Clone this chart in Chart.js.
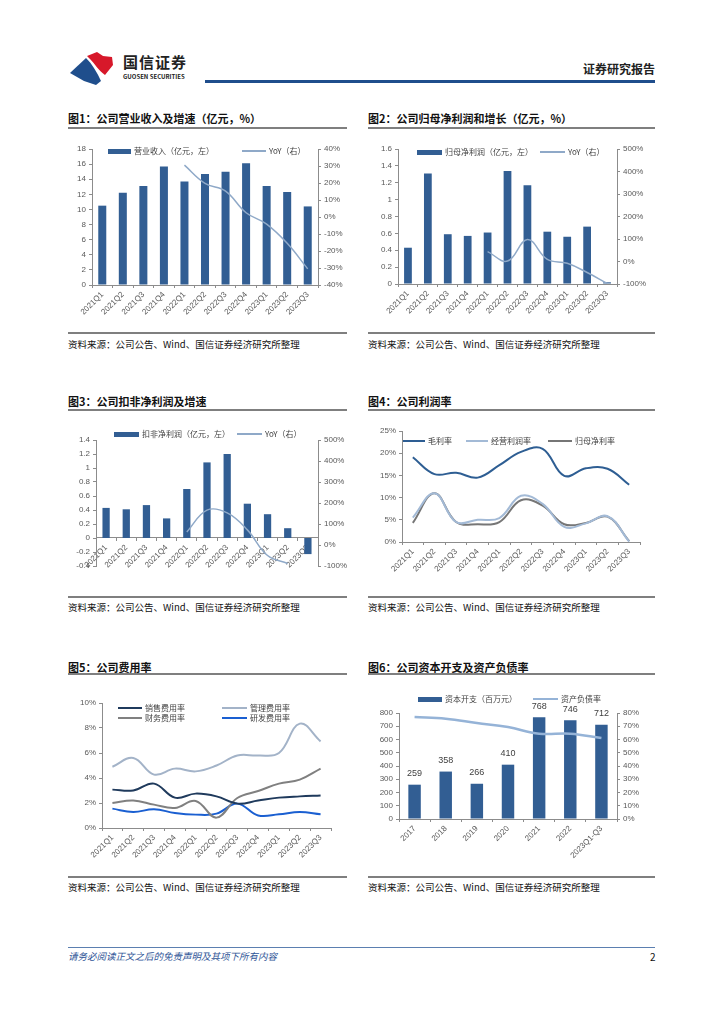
<!DOCTYPE html>
<html>
<head>
<meta charset="utf-8">
<script src="https://cdn.jsdelivr.net/npm/chart.js@4.4.1/dist/chart.umd.min.js"></script>
<style>
  html, body { margin: 0; padding: 0; background: #fff; }
  #page { position: relative; width: 724px; height: 1024px; overflow: hidden;
          font-family: "Noto Sans CJK SC", "Liberation Sans", sans-serif; }
  .abs { position: absolute; white-space: nowrap; }
  canvas { position: absolute; }
  .title { font-size: 11px; line-height: 12px; font-weight: bold; color: #111; }
  .src { font-size: 9.5px; line-height: 10px; color: #111; }
  .rule { position: absolute; height: 1.5px; background: #7f7f7f; }
  .lg { position: absolute; font-size: 8px; line-height: 10px; color: #404040; white-space: nowrap; }
  .sw { position: absolute; }
</style>
</head>
<body>
<div id="page">
  <!-- header -->
  <svg class="abs" style="left:68px;top:50px" width="50" height="36" viewBox="0 0 50 36">
    <path d="M19 6 L29 2 L35 6 L44 7 L45 15 L37 25 C31 21 27 14 22 9 Z" fill="#d7182a"/>
    <path d="M2 23 L18 8 C24 14 29 22 33 31 L28 35 L16 31 Z" fill="#1f4e8c"/>
  </svg>
  <div class="abs" style="left:123px;top:54px;font-size:15px;line-height:16px;font-weight:bold;color:#222;letter-spacing:1px">国信证券</div>
  <div class="abs" style="left:123px;top:73px;font-size:6px;line-height:7px;font-weight:bold;color:#222">GUOSEN SECURITIES</div>
  <div class="abs" style="left:583px;top:62px;font-size:12px;line-height:13px;font-weight:bold;color:#222">证券研究报告</div>
  <div class="abs" style="left:205px;top:80px;width:450px;height:2.5px;background:#1f4e8c"></div>

  <!-- titles & sources -->
  <div class="abs title" style="left:68px;top:112px">图1：公司营业收入及增速（亿元，%）</div>
  <div class="abs title" style="left:368px;top:112px">图2：公司归母净利润和增长（亿元，%）</div>
  <div class="rule" style="left:68px;top:127px;width:279px"></div>
  <div class="rule" style="left:368px;top:127px;width:287px"></div>
  <div class="rule" style="left:68px;top:332px;width:279px"></div>
  <div class="rule" style="left:368px;top:332px;width:287px"></div>
  <div class="abs src" style="left:68px;top:339px">资料来源：公司公告、Wind、国信证券经济研究所整理</div>
  <div class="abs src" style="left:368px;top:339px">资料来源：公司公告、Wind、国信证券经济研究所整理</div>

  <div class="abs title" style="left:68px;top:395px">图3：公司扣非净利润及增速</div>
  <div class="abs title" style="left:368px;top:395px">图4：公司利润率</div>
  <div class="rule" style="left:68px;top:409px;width:279px"></div>
  <div class="rule" style="left:368px;top:409px;width:287px"></div>
  <div class="rule" style="left:68px;top:596px;width:279px"></div>
  <div class="rule" style="left:368px;top:596px;width:287px"></div>
  <div class="abs src" style="left:68px;top:602px">资料来源：公司公告、Wind、国信证券经济研究所整理</div>
  <div class="abs src" style="left:368px;top:602px">资料来源：公司公告、Wind、国信证券经济研究所整理</div>

  <div class="abs title" style="left:68px;top:661px">图5：公司费用率</div>
  <div class="abs title" style="left:368px;top:661px">图6：公司资本开支及资产负债率</div>
  <div class="rule" style="left:68px;top:673px;width:279px"></div>
  <div class="rule" style="left:368px;top:673px;width:287px"></div>
  <div class="rule" style="left:68px;top:876px;width:279px"></div>
  <div class="rule" style="left:368px;top:876px;width:287px"></div>
  <div class="abs src" style="left:68px;top:882px">资料来源：公司公告、Wind、国信证券经济研究所整理</div>
  <div class="abs src" style="left:368px;top:882px">资料来源：公司公告、Wind、国信证券经济研究所整理</div>

  <!-- footer -->
  <div class="abs" style="left:68px;top:947px;width:587px;height:1px;background:#5b7fb0"></div>
  <div class="abs" style="left:68px;top:951px;font-size:9.5px;line-height:11px;font-style:italic;color:#2f5597">请务必阅读正文之后的免责声明及其项下所有内容</div>
  <div class="abs" style="left:650px;top:951px;font-size:10px;line-height:11px;color:#111">2</div>

  <canvas id="c1" width="280" height="190" style="left:68px;top:135px"></canvas>
  <canvas id="c2" width="287" height="190" style="left:368px;top:135px"></canvas>
  <canvas id="c3" width="280" height="170" style="left:68px;top:420px"></canvas>
  <canvas id="c4" width="287" height="170" style="left:368px;top:420px"></canvas>
  <canvas id="c5" width="280" height="180" style="left:68px;top:690px"></canvas>
  <canvas id="c6" width="287" height="180" style="left:368px;top:690px"></canvas>
</div>

<script>
// ---- data ----
const quarters = ['2021Q1', '2021Q2', '2021Q3', '2021Q4', '2022Q1', '2022Q2', '2022Q3', '2022Q4', '2023Q1', '2023Q2', '2023Q3'];

const revenue    = [10.5, 12.2, 13.1, 15.7, 13.7, 14.7, 15.0, 16.1, 13.1, 12.3, 10.4];
const revenueYoy = [null, null, null, null, 30.5, 19.8, 15.2, 2.5, -4.2, -15.5, -30.5];

const netProfit    = [0.43, 1.31, 0.59, 0.57, 0.61, 1.34, 1.17, 0.62, 0.56, 0.68, 0.02];
const netProfitYoy = [null, null, null, null, 44, 2, 98, 9, -8, -49, -97];

const deductedProfit = [0.43, 0.41, 0.47, 0.28, 0.70, 1.08, 1.20, 0.49, 0.34, 0.14, -0.23];
const deductedYoy    = [null, null, null, null, 62, 166, 153, 72, -50, -88, null];

const grossMargin     = [19.1, 15.3, 15.6, 14.5, 17.3, 20.3, 21.0, 14.9, 16.6, 16.5, 12.9];
const operatingMargin = [5.5, 11.0, 4.5, 5.0, 5.4, 10.4, 8.6, 3.4, 4.2, 5.8, 0.1];
const netMargin       = [4.3, 11.0, 4.5, 4.0, 4.5, 9.4, 8.2, 4.0, 4.3, 5.7, 0.2];

const sellingRate = [3.07, 3.0, 3.55, 2.43, 2.75, 2.53, 1.95, 2.2, 2.43, 2.53, 2.6];
const adminRate   = [4.9, 5.6, 4.27, 4.75, 4.53, 5.0, 5.8, 5.8, 6.0, 8.35, 6.93];
const financeRate = [2.0, 2.2, 1.87, 1.6, 2.16, 0.83, 2.4, 2.96, 3.55, 3.87, 4.75];
const rdRate      = [1.55, 1.28, 1.5, 1.2, 1.07, 1.15, 1.95, 1.0, 1.1, 1.28, 1.1];

const years      = ['2017', '2018', '2019', '2020', '2021', '2022', '2023Q1-Q3'];
const capex      = [259, 358, 266, 410, 768, 746, 712];
const debtRatio  = [77, 75.7, 72.5, 69.4, 64.4, 64.4, 61.1];

// ---- styling ----
const FONT = '"Liberation Sans", "Noto Sans CJK SC", sans-serif';
const BAR  = '#325e93';
const YOY  = '#8fa9c8';
const AXIS = '#8c8c8c';
const TICK = '#595959';

Chart.defaults.font.family = FONT;
Chart.defaults.font.size = 8;
Chart.defaults.color = TICK;
Chart.defaults.animation = false;
Chart.defaults.responsive = false;
Chart.defaults.plugins.legend.display = false;
Chart.defaults.plugins.tooltip.enabled = false;
Chart.defaults.elements.point.radius = 0;

const pct = v => v + '%';
const dec = v => String(+v.toFixed(1));

function yAxis(position, min, max, step, width, fmt) {
  return {
    position, min, max,
    ticks: { stepSize: step, color: TICK, padding: 3, callback: fmt || dec },
    grid: { drawOnChartArea: false, color: AXIS, tickLength: 3 },
    border: { color: AXIS },
    afterFit: s => { s.width = width; },
  };
}

function xAxis(height, extra) {
  return Object.assign({
    offset: true,
    ticks: { color: TICK, minRotation: 45, maxRotation: 45, autoSkip: false, padding: 2 },
    grid: { drawOnChartArea: false, offset: true, color: AXIS, tickLength: 3 },
    border: { color: AXIS },
    afterFit: s => { s.height = height; },
  }, extra || {});
}

function addLegend(items) {
  const page = document.getElementById('page');
  items.forEach(it => {
    const sw = document.createElement('div');
    sw.className = 'sw';
    sw.style.cssText = `left:${it.x}px;top:${it.y - it.h / 2}px;width:${it.w}px;height:${it.h}px;background:${it.color}`;
    page.appendChild(sw);
    const tx = document.createElement('div');
    tx.className = 'lg';
    tx.textContent = it.text;
    tx.style.left = (it.x + it.w + 3) + 'px';
    tx.style.top = (it.y - 5) + 'px';
    page.appendChild(tx);
  });
}

// value labels above bars (fig. 6)
const barValueLabels = {
  id: 'barValueLabels',
  afterDatasetsDraw(chart) {
    const ctx = chart.ctx;
    const meta = chart.getDatasetMeta(1);
    ctx.save();
    ctx.font = '9px ' + FONT;
    ctx.fillStyle = '#404040';
    ctx.textAlign = 'center';
    ctx.textBaseline = 'middle';
    meta.data.forEach((bar, i) => ctx.fillText(String(chart.data.datasets[1].data[i]), bar.x, bar.y - 11));
    ctx.restore();
  }
};

function lineDs(data, color, width, axis) {
  return { type: 'line', data, yAxisID: axis || 'y', borderColor: color, borderWidth: width,
           tension: 0.4, fill: false, order: 0 };
}

// ---- fig 1 ----
new Chart(document.getElementById('c1'), {
  type: 'bar',
  data: { labels: quarters, datasets: [
    lineDs(revenueYoy, YOY, 1.5, 'y1'),
    { data: revenue, backgroundColor: BAR, barPercentage: 0.39, categoryPercentage: 1, order: 1 },
  ]},
  options: {
    layout: { padding: { top: 14, right: 0, bottom: 0, left: 0 } },
    scales: {
      x: xAxis(40),
      y: yAxis('left', 0, 18, 2, 24),
      y1: yAxis('right', -40, 40, 10, 30, pct),
    }
  }
});
addLegend([
  { x: 108, y: 151, w: 23, h: 5, color: BAR, text: '营业收入（亿元，左）' },
  { x: 242, y: 151, w: 24, h: 1.5, color: YOY, text: 'YoY（右）' },
]);

// ---- fig 2 ----
new Chart(document.getElementById('c2'), {
  type: 'bar',
  data: { labels: quarters, datasets: [
    lineDs(netProfitYoy, YOY, 1.5, 'y1'),
    { data: netProfit, backgroundColor: BAR, barPercentage: 0.39, categoryPercentage: 1, order: 1 },
  ]},
  options: {
    layout: { padding: { top: 14, right: 0, bottom: 0, left: 0 } },
    scales: {
      x: xAxis(41),
      y: yAxis('left', 0, 1.6, 0.2, 30),
      y1: yAxis('right', -100, 500, 100, 38, pct),
    }
  }
});
addLegend([
  { x: 417, y: 152, w: 25, h: 5, color: BAR, text: '归母净利润（亿元，左）' },
  { x: 540, y: 152, w: 25, h: 1.5, color: YOY, text: 'YoY（右）' },
]);

// ---- fig 3 ----
new Chart(document.getElementById('c3'), {
  type: 'bar',
  data: { labels: quarters, datasets: [
    lineDs(deductedYoy, YOY, 1.5, 'y1'),
    { data: deductedProfit, backgroundColor: BAR, barPercentage: 0.36, categoryPercentage: 1, order: 1 },
  ]},
  options: {
    layout: { padding: { top: 20, right: 0, bottom: 24, left: 0 } },
    scales: {
      x: xAxis(0, { position: { y: 0 } }),
      y: yAxis('left', -0.4, 1.4, 0.2, 28),
      y1: yAxis('right', -100, 500, 100, 30, pct),
    }
  }
});
addLegend([
  { x: 114, y: 434, w: 25, h: 5, color: BAR, text: '扣非净利润（亿元，左）' },
  { x: 237, y: 434, w: 25, h: 1.5, color: YOY, text: 'YoY（右）' },
]);

// ---- fig 4 ----
const C4 = ['#2e5e93', '#a3bad6', '#767676'];
new Chart(document.getElementById('c4'), {
  type: 'line',
  data: { labels: quarters, datasets: [
    lineDs(grossMargin, C4[0], 2),
    lineDs(operatingMargin, C4[1], 2),
    lineDs(netMargin, C4[2], 2),
  ]},
  options: {
    layout: { padding: { top: 11, right: 15, bottom: 0, left: 0 } },
    scales: {
      x: xAxis(48),
      y: yAxis('left', 0, 25, 5, 34, pct),
    }
  }
});
addLegend([
  { x: 403, y: 441, w: 22, h: 2, color: C4[0], text: '毛利率' },
  { x: 466, y: 441, w: 22, h: 2, color: C4[1], text: '经营利润率' },
  { x: 548, y: 441, w: 24, h: 2, color: C4[2], text: '归母净利率' },
]);

// ---- fig 5 ----
const C5 = ['#1f3a5c', '#a3b3c8', '#808080', '#1a5fd1'];
new Chart(document.getElementById('c5'), {
  type: 'line',
  data: { labels: quarters, datasets: [
    lineDs(sellingRate, C5[0], 2),
    lineDs(adminRate, C5[1], 2),
    lineDs(financeRate, C5[2], 2),
    lineDs(rdRate, C5[3], 2),
  ]},
  options: {
    layout: { padding: { top: 13, right: 17, bottom: 0, left: 0 } },
    scales: {
      x: xAxis(42),
      y: yAxis('left', 0, 10, 2, 34, pct),
    }
  }
});
addLegend([
  { x: 118, y: 708, w: 24, h: 2, color: C5[0], text: '销售费用率' },
  { x: 222, y: 708, w: 25, h: 2, color: C5[1], text: '管理费用率' },
  { x: 118, y: 718, w: 24, h: 2, color: C5[2], text: '财务费用率' },
  { x: 222, y: 718, w: 25, h: 2, color: C5[3], text: '研发费用率' },
]);

// ---- fig 6 ----
const DEBT = '#95b3d7';
new Chart(document.getElementById('c6'), {
  type: 'bar',
  data: { labels: years, datasets: [
    lineDs(debtRatio, DEBT, 2.5, 'y1'),
    { data: capex, backgroundColor: BAR, barPercentage: 0.4, categoryPercentage: 1, order: 1 },
  ]},
  options: {
    layout: { padding: { top: 23, right: 0, bottom: 0, left: 0 } },
    scales: {
      x: xAxis(51),
      y: yAxis('left', 0, 800, 100, 31),
      y1: yAxis('right', 0, 80, 10, 38, pct),
    }
  },
  plugins: [barValueLabels]
});
addLegend([
  { x: 418, y: 699, w: 24, h: 5, color: BAR, text: '资本开支（百万元）' },
  { x: 533, y: 699, w: 25, h: 2, color: DEBT, text: '资产负债率' },
]);
</script>
</body>
</html>
